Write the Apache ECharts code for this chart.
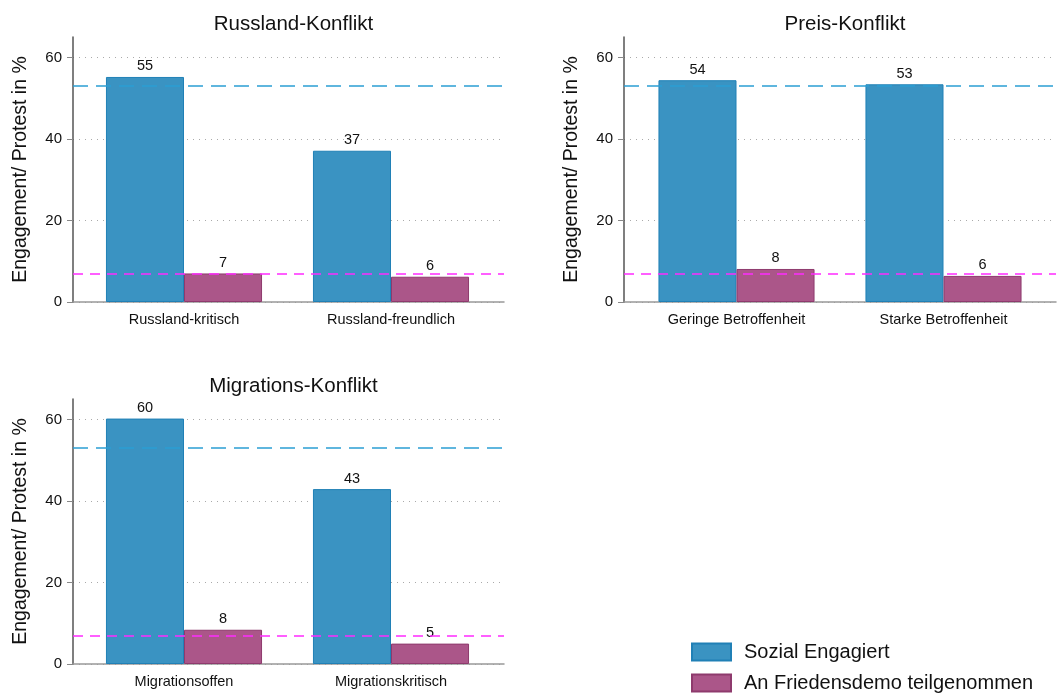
<!DOCTYPE html>
<html>
<head>
<meta charset="utf-8">
<script src="https://cdn.jsdelivr.net/npm/echarts@6/dist/echarts.min.js"></script>
<style>
html,body{margin:0;padding:0;background:#fff;}
#c{width:1057px;height:693px;}
</style>
</head>
<body>
<div id="c"></div>
<script>
// ---- data ----
const panelTitles = ['Russland-Konflikt', 'Preis-Konflikt', 'Migrations-Konflikt'];
const russlandCats = ['Russland-kritisch', 'Russland-freundlich'];
const preisCats = ['Geringe Betroffenheit', 'Starke Betroffenheit'];
const migrationCats = ['Migrationsoffen', 'Migrationskritisch'];
const russlandEngaged = [55.2, 37.1];
const russlandDemo = [7.0, 6.2];
const preisEngaged = [54.4, 53.4];
const preisDemo = [8.1, 6.4];
const migrationEngaged = [60.2, 42.9];
const migrationDemo = [8.4, 5.0];
const seriesNames = ['Sozial Engagiert', 'An Friedensdemo teilgenommen'];
const refEngaged = 53;
const refDemo = 7;
const yTicks = [0, 20, 40, 60];
const yLabel = 'Engagement/ Protest in %';

const FONT = '"Liberation Sans", Arial, Helvetica, sans-serif';
const BLUE = '#3a93c2', BLUE_B = '#2080b6';
const PINK = '#ab5689', PINK_B = '#8e3a6d';
const Y_MAX = 65;

// outer frames (axes, grid lines, reference lines)
const outer = [
  {left: 73, top: 37, width: 431, height: 265},
  {left: 624, top: 37, width: 432, height: 265},
  {left: 73, top: 399, width: 431, height: 265}
];
// inner plotting areas for the bar groups
const inner = [
  {left: 80.5, top: 37, width: 414, height: 265},
  {left: 633, top: 37, width: 414, height: 265},
  {left: 80.5, top: 399, width: 414, height: 265}
];
const cats = [russlandCats, preisCats, migrationCats];
const eng = [russlandEngaged, preisEngaged, migrationEngaged];
const demo = [russlandDemo, preisDemo, migrationDemo];

const xAxes = [], yAxes = [], series = [], titles = [];
outer.forEach((g, i) => {
  titles.push({
    text: panelTitles[i], left: g.left + g.width / 2, top: i === 2 ? 371 : 9, textAlign: 'center',
    textStyle: {fontFamily: FONT, fontSize: 20.5, fontWeight: 'normal', color: '#111'}
  });
  xAxes.push({
    type: 'category', gridIndex: i, data: cats[i],
    axisLine: {lineStyle: {color: '#999', width: 1.5}},
    axisTick: {show: false}, axisLabel: {show: false}
  });
  yAxes.push({
    type: 'value', gridIndex: i, min: 0, max: Y_MAX, interval: 20,
    name: yLabel, nameLocation: 'middle', nameGap: 42,
    nameTextStyle: {fontFamily: FONT, fontSize: 19.5, color: '#111'},
    axisLine: {show: true, lineStyle: {color: '#555', width: 1.5}},
    axisTick: {show: true, length: 6, lineStyle: {color: '#888'}, customValues: yTicks},
    axisLabel: {fontFamily: FONT, fontSize: 15, color: '#111', margin: 11, customValues: yTicks},
    splitLine: {show: true, lineStyle: {color: '#aaa', type: [1, 5], width: 1}}
  });
  series.push({
    type: 'line', xAxisIndex: i, yAxisIndex: i, data: [], z: 1, silent: true,
    markLine: {
      silent: true, symbol: 'none', label: {show: false}, animation: false,
      data: [
        {yAxis: refEngaged, lineStyle: {color: '#2b9ed4', type: [15, 8], width: 1.5}},
        {yAxis: refDemo, lineStyle: {color: '#ff2bff', type: [10, 7], width: 1.5}}
      ]
    }
  });
});
inner.forEach((g, k) => {
  const i = k + 3;
  xAxes.push({
    type: 'category', gridIndex: i, data: cats[k],
    axisLine: {show: false}, axisTick: {show: false},
    axisLabel: {fontFamily: FONT, fontSize: 14.5, color: '#111', margin: 10}
  });
  yAxes.push({type: 'value', gridIndex: i, min: 0, max: Y_MAX, show: false, splitLine: {show: false}});
  const lbl = {show: true, position: 'top', distance: 3, fontFamily: FONT, fontSize: 14.5, color: '#111',
    formatter: p => Math.round(p.value)};
  series.push({
    name: seriesNames[0], type: 'bar', xAxisIndex: i, yAxisIndex: i, data: eng[k], z: 3,
    barGap: '0%', barCategoryGap: '24.6%',
    itemStyle: {color: BLUE, borderColor: BLUE_B, borderWidth: 1}, label: lbl
  });
  series.push({
    name: seriesNames[1], type: 'bar', xAxisIndex: i, yAxisIndex: i, data: demo[k], z: 3,
    barGap: '0%', barCategoryGap: '24.6%',
    itemStyle: {color: PINK, borderColor: PINK_B, borderWidth: 1}, label: lbl
  });
});

const legendBase = {
  left: 686, itemWidth: 39, itemHeight: 17, icon: 'rect',
  textStyle: {fontFamily: FONT, fontSize: 20, color: '#111', padding: [0, 0, 0, 8]}
};

const chart = echarts.init(document.getElementById('c'), null, {renderer: 'canvas'});
chart.setOption({
  animation: false,
  backgroundColor: '#fff',
  title: titles,
  grid: outer.concat(inner),
  xAxis: xAxes,
  yAxis: yAxes,
  legend: [
    Object.assign({}, legendBase, {data: [seriesNames[0]], top: 637}),
    Object.assign({}, legendBase, {data: [seriesNames[1]], top: 668})
  ],
  series: series
});
</script>
</body>
</html>
